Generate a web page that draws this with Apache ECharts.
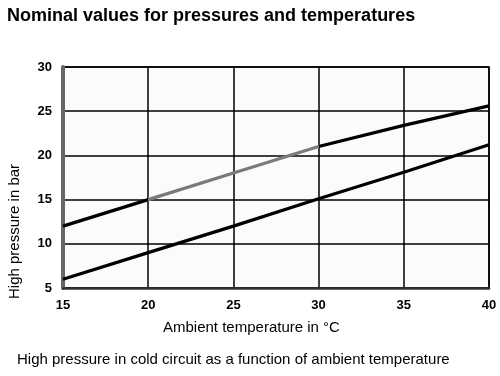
<!DOCTYPE html>
<html>
<head>
<meta charset="utf-8">
<script src="https://cdn.jsdelivr.net/npm/echarts@6/dist/echarts.min.js"></script>
<style>
  html, body { margin: 0; padding: 0; background: #fff; }
  #chart { width: 500px; height: 376px; }
</style>
</head>
<body>
<div id="chart"></div>
<script>
// ambient temperature (°C) and high pressure (bar)
const temps = [15, 20, 25, 30, 35, 40];
const upperPressure = [12, 15, 18, 21, 23.4, 25.6];
const lowerPressure = [6, 9, 12, 15.1, 18.1, 21.2];

const titleText = 'Nominal values for pressures and temperatures';
const xName = 'Ambient temperature in °C';
const yName = 'High pressure in bar';
const caption = 'High pressure in cold circuit as a function of ambient temperature';

const font = '"Liberation Sans", Arial, sans-serif';

const chart = echarts.init(document.getElementById('chart'));
const option = {
    animation: false,
    title: {
        text: titleText,
        left: 2,
        top: 2,
        textStyle: { fontFamily: font, fontSize: 18, fontWeight: 'bold', color: '#000' }
    },
    grid: {
        left: 63, right: 11, top: 67, bottom: 88,
        show: true,
        backgroundColor: '#fbfbfb',
        borderColor: '#000',
        borderWidth: 1.5
    },
    xAxis: {
        type: 'value',
        min: 15, max: 40, interval: 5,
        axisLine: { show: true, lineStyle: { color: '#333', width: 2.5 } },
        axisTick: { show: false },
        splitLine: { show: true, lineStyle: { color: '#000', width: 1.5 } },
        axisLabel: { fontFamily: font, fontSize: 13, fontWeight: 'bold', color: '#000', margin: 11 }
    },
    yAxis: {
        type: 'value',
        min: 5, max: 30, interval: 5,
        axisLine: { show: true, lineStyle: { color: '#666', width: 4 } },
        axisTick: { show: false },
        splitLine: { show: true, lineStyle: { color: '#000', width: 1.5 } },
        axisLabel: { fontFamily: font, fontSize: 13, fontWeight: 'bold', color: '#000', margin: 11 }
    },
    visualMap: {
        show: false,
        type: 'piecewise',
        dimension: 0,
        seriesIndex: 0,
        pieces: [
            { lt: 20, color: '#000' },
            { gte: 20, lte: 30, color: '#7a7a7a' },
            { gt: 30, color: '#000' }
        ]
    },
    series: [{
        type: 'line',
        data: temps.map((t, i) => [t, upperPressure[i]]),
        showSymbol: false,
        lineStyle: { width: 3.2 }
    }, {
        type: 'line',
        data: temps.map((t, i) => [t, lowerPressure[i]]),
        showSymbol: false,
        lineStyle: { width: 3.2, color: '#000' }
    }],
    graphic: [{
        type: 'text',
        left: 163,
        top: 320,
        style: { text: xName, fontFamily: font, fontSize: 15, fill: '#000' }
    }, {
        type: 'text',
        x: 7,
        y: 299,
        rotation: Math.PI / 2,
        style: { text: yName, fontFamily: font, fontSize: 15, fill: '#000' }
    }, {
        type: 'text',
        left: 17,
        top: 352,
        style: { text: caption, fontFamily: font, fontSize: 15, fill: '#000' }
    }]
};
chart.setOption(option);
</script>
</body>
</html>
